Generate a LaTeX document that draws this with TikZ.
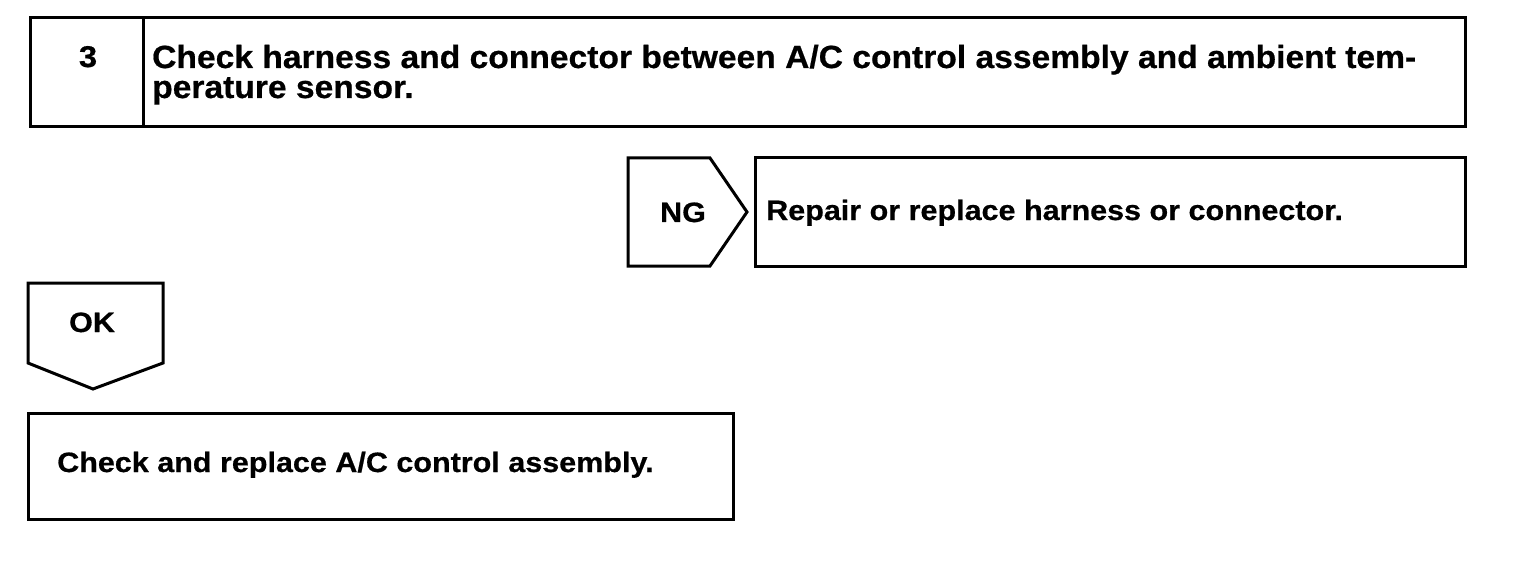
\documentclass[tikz,border=0pt]{standalone}
\usepackage{fontspec}
\setmainfont{Liberation Sans}
\newfontfamily\headfont[FakeStretch=1.05,BoldFeatures={FakeBold=0.6}]{Liberation Sans}
\newfontfamily\bodyfont[FakeStretch=1.09,BoldFeatures={FakeBold=0.6}]{Liberation Sans}
\begin{document}
\begin{tikzpicture}[x=1pt,y=-1pt,
  frame/.style={draw=black,line width=3pt,line join=miter},
  txt/.style={font=\bodyfont\fontsize{28}{29}\selectfont\bfseries,inner sep=0pt},
  head/.style={font=\headfont\fontsize{32}{30}\selectfont\bfseries,inner sep=0pt,align=left}]
\useasboundingbox (0,0) rectangle (1520,564);
% top box
\draw[frame] (30,18) rectangle (1465,127);
\draw[frame] (143,18) -- (143,127);
\node[txt,font=\bodyfont\fontsize{30}{30}\selectfont\bfseries,anchor=base] (num) at (88,67) {3};
\node[head,anchor=base west] (t1) at (152,98) {Check harness and connector between A/C control assembly and ambient tem-\\perature sensor.};
% NG
\draw[frame] (628,158) -- (710,158) -- (747,212) -- (710,266) -- (628,266) -- cycle;
\node[txt,anchor=base] (ng) at (683,222) {NG};
\draw[frame] (755,158) rectangle (1465,266);
\node[txt,anchor=base west] (rep) at (766,220) {Repair or replace harness or connector.};
% OK
\draw[frame] (28,283) -- (163,283) -- (163,363) -- (93,389) -- (28,363) -- cycle;
\node[txt,anchor=base] (ok) at (92,332) {OK};
% bottom
\draw[frame] (28,413) rectangle (733,519);
\node[txt,anchor=base west] (chk) at (57,472) {Check and replace A/C control assembly.};
\end{tikzpicture}
\end{document}
